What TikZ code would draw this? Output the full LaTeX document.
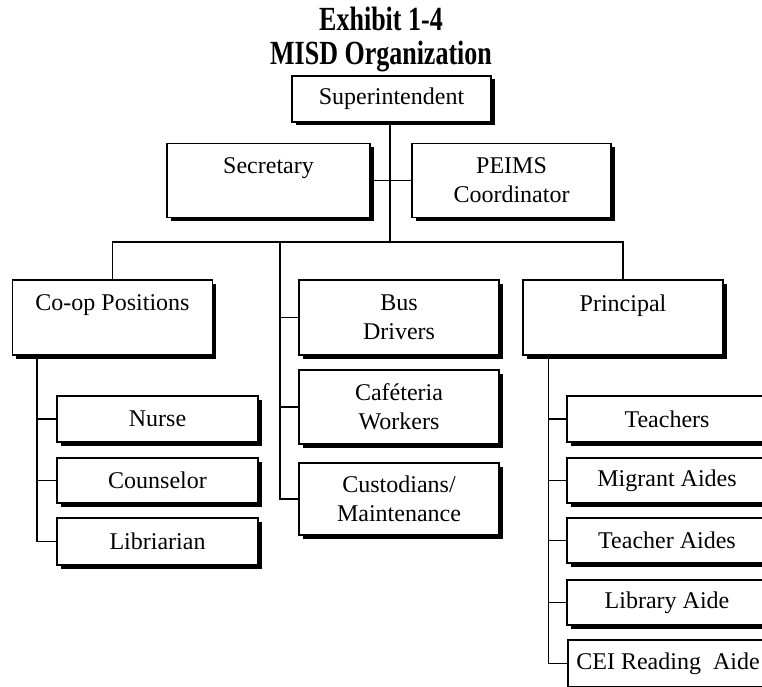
\documentclass[tikz,border=0pt]{standalone}
\usepackage{fontspec}
\setmainfont{Liberation Serif}
\usetikzlibrary{shadows}
\tikzset{
  orgbox/.style={draw, fill=white, line width=1.3pt, inner sep=0pt,
    minimum width=200pt, minimum height=46pt, align=center,
    font=\fontsize{24}{29}\selectfont,
    drop shadow={shadow xshift=3.5pt, shadow yshift=-3.5pt, fill=black, opacity=1}},
  tallbox/.style={orgbox, minimum height=74pt},
  link/.style={line width=1.3pt},
  heading/.style={font=\fontsize{26}{30}\selectfont\bfseries}
}

\begin{document}
\begin{tikzpicture}[x=1pt,y=-1pt]
\clip (0,0) rectangle (762,687);
\fill[white] (0,0) rectangle (762,687);
\node[heading] (title) at (381,19) {\scalebox{1}[1.3]{Exhibit 1-4}};
\node[heading] (subtitle) at (381,57) {\scalebox{1}[1.3]{MISD Organization}};
\coordinate (bar) at (390,242);
\coordinate (busbar) at (280,242);
\node[orgbox, minimum width=199pt] (sup) at (391.5,99) {Superintendent};
\node[tallbox, minimum width=203pt] (sec) at (268.5,180.5) {Secretary\\\mbox{}};
\node[tallbox, minimum width=199pt] (peims) at (511.5,180.5) {PEIMS\\Coordinator};
\node[tallbox, minimum height=75pt] (coop) at (112.5,317.5) {Co-op Positions\\\mbox{}};
\node[tallbox, minimum height=75pt] (bus) at (399,317.5) {Bus\\Drivers};
\node[tallbox] (caf) at (399,407) {Caf\'eteria\\Workers};
\node[tallbox, minimum height=72pt] (cust) at (399,499) {Custodians/\\Maintenance};
\node[tallbox, minimum height=75pt] (prin) at (623,317.5) {Principal\\\mbox{}};
\node[orgbox, minimum width=201pt] (nurse) at (157.5,419) {Nurse};
\node[orgbox, minimum width=201pt, minimum height=45pt] (couns) at (157.5,480.5) {Counselor};
\node[orgbox, minimum width=201pt, minimum height=47pt] (lib) at (157.5,541.5) {Libriarian};
\node[orgbox] (teach) at (667,419) {Teachers};
\node[orgbox, minimum height=45pt] (migr) at (667,480.5) {Migrant Aides};
\node[orgbox, minimum height=45pt] (taides) at (667,540.5) {Teacher Aides};
\node[orgbox, minimum height=45pt] (libaide) at (667,602.5) {Library Aide};
\node[orgbox, minimum height=47pt] (cei) at (668,663.5) {CEI Reading\ \ Aide};
\draw[link] (sup.south -| bar) -- (bar);
\draw[link] (sec.east) -- (peims.west);
\draw[link] (coop.north) |- (bar) -| (prin.north);
\draw[link] (busbar) |- (cust.west);
\foreach \n in {bus,caf} \draw[link] (busbar |- \n.west) -- (\n.west);
\coordinate (coopbar) at ([xshift=25pt]coop.south west);
\draw[link] (coopbar) |- (lib.west);
\foreach \n in {nurse,couns} \draw[link] (coopbar |- \n.west) -- (\n.west);
\coordinate (prinbar) at ([xshift=26pt]prin.south west);
\draw[link] (prinbar) |- (cei.west);
\foreach \n in {teach,migr,taides,libaide} \draw[link] (prinbar |- \n.west) -- (\n.west);
\end{tikzpicture}
\end{document}
